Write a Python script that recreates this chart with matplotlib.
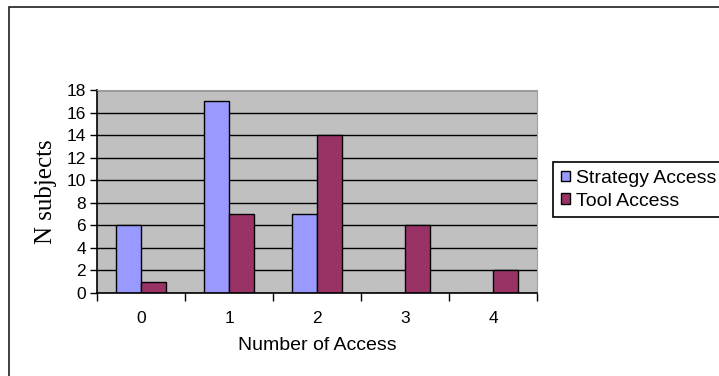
import matplotlib.pyplot as plt
import matplotlib.patches as patches
import numpy as np

# Dados
categorias = ["0", "1", "2", "3", "4"]
strategy_access = [6, 17, 7, 0, 0]
tool_access = [1, 7, 14, 6, 2]
ticks_y = [0, 2, 4, 6, 8, 10, 12, 14, 16, 18]

plt.rcParams["font.family"] = ["Liberation Sans", "DejaVu Sans"]

fig = plt.figure(figsize=(7.19, 3.76), dpi=100)
ax = fig.add_axes([97 / 719, 1 - 293 / 376, 440 / 719, 203 / 376])

# Moldura externa do gráfico
moldura = patches.Rectangle((9 / 719, -0.05), 1.0, 1 - 7 / 376 + 0.05,
                            transform=fig.transFigure, fill=False,
                            edgecolor="#202020", linewidth=1.2)
fig.patches.append(moldura)

x = np.arange(len(categorias))
largura = 1 / 3.5

ax.set_facecolor("#C0C0C0")
ax.set_axisbelow(True)
ax.yaxis.grid(True, color="black", linewidth=1)

ax.bar(x - largura / 2, strategy_access, largura, color="#9999FF",
       edgecolor="black", linewidth=1, label="Strategy Access")
ax.bar(x + largura / 2, tool_access, largura, color="#993366",
       edgecolor="black", linewidth=1, label="Tool Access")

ax.set_xlim(-0.5, 4.5)
ax.set_ylim(0, 18)
ax.set_yticks(ticks_y)
ax.tick_params(axis="y", labelsize=12.5, length=5, width=1, direction="out", pad=3)

ax.set_xticks(np.arange(len(categorias) + 1) - 0.5)
ax.set_xticklabels([])
ax.set_xticks(x, minor=True)
ax.set_xticklabels(categorias, minor=True)
ax.tick_params(axis="x", which="major", length=6, width=1, direction="out")
ax.tick_params(axis="x", which="minor", length=0, labelsize=12.5, pad=13)

for lado in ["top", "right"]:
    ax.spines[lado].set_color("#A0A0A0")
    ax.spines[lado].set_linewidth(0.8)
for lado in ["left", "bottom"]:
    ax.spines[lado].set_color("black")
    ax.spines[lado].set_linewidth(1.2)

ax.set_xlabel("Number of Access", fontsize=14, labelpad=8)
ax.set_ylabel("N subjects", fontsize=18, family=["Liberation Serif", "DejaVu Serif"],
              labelpad=7)

leg = fig.legend(loc="upper left", bbox_to_anchor=(553 / 719, 1 - 162 / 376),
                 borderaxespad=0, fontsize=14, handlelength=0.45, handleheight=0.45,
                 handletextpad=0.35, borderpad=0.4, labelspacing=0.3,
                 fancybox=False, framealpha=1)
leg.get_frame().set_edgecolor("black")
leg.get_frame().set_linewidth(1.2)

fig.savefig("out.png", dpi=100)
